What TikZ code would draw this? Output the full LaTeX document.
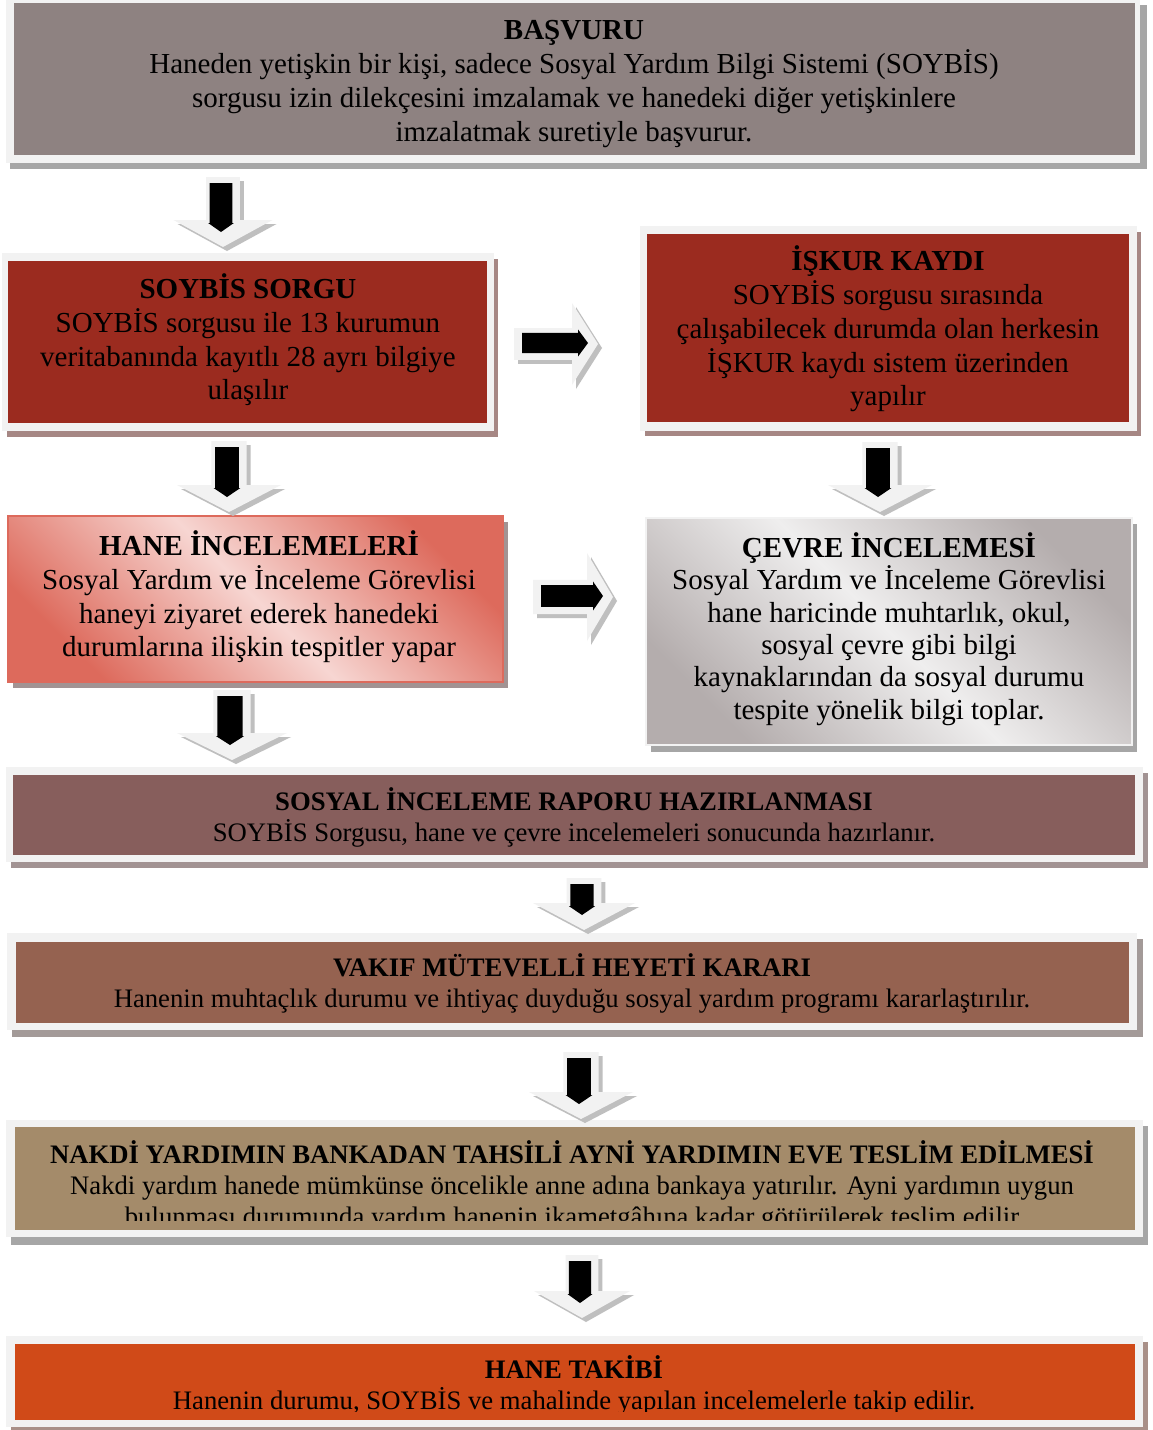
\documentclass[tikz,border=0pt]{standalone}
\usepackage{fontspec}
\setmainfont{Liberation Serif}
\usetikzlibrary{calc}
\definecolor{framegray}{HTML}{F2F2F2}
\definecolor{arrshadow}{HTML}{BFBFBF}
\definecolor{cOne}{HTML}{8E8281}
\definecolor{cRed}{HTML}{9B2B1F}
\definecolor{cSix}{HTML}{875E5C}
\definecolor{cSeven}{HTML}{956250}
\definecolor{cEight}{HTML}{A48B6A}
\definecolor{cNine}{HTML}{D04A18}
\definecolor{pinkDark}{HTML}{DD6A5C}
\definecolor{pinkLight}{HTML}{F7D6D2}
\definecolor{grayDark}{HTML}{B4ADAD}
\definecolor{grayLight}{HTML}{EFEEEE}
\definecolor{shGray}{HTML}{A6A6A6}
\definecolor{shRed}{HTML}{A68784}
\definecolor{shMauve}{HTML}{A29393}
\definecolor{shBrown}{HTML}{A39A98}
\definecolor{shOrange}{HTML}{A99088}
\tikzset{
  txt/.style={inner sep=0pt, align=center, text=black},
  bigfont/.style={font=\fontsize{29}{33.7}\selectfont},
  smallfont/.style={font=\fontsize{26.7}{31}\selectfont},
  lightarrow/.style={fill=framegray},
  blackarrow/.style={fill=black},
  arrowshadow/.style={fill=arrshadow},
}
% down block arrow: centre x, top y, tip y, head half width
\newcommand{\DArr}[4]{%
  \pgfmathsetmacro{\arS}{0.34*#4}%
  \pgfmathsetmacro{\arB}{0.23*#4}%
  \pgfmathsetmacro{\arX}{#1-2}%
  \foreach \dx/\dy/\sty in {4/4/arrowshadow,0/0/lightarrow}{%
    \fill[\sty] ({#1-\arS+\dx},{#2+\dy}) -- ({#1+\arS+\dx},{#2+\dy}) -- ({#1+\arS+\dx},{#3-27+\dy})
      -- ({#1+#4+\dx},{#3-27+\dy}) -- ({#1+\dx},{#3+\dy}) -- ({#1-#4+\dx},{#3-27+\dy})
      -- ({#1-\arS+\dx},{#3-27+\dy}) -- cycle;}
  \fill[blackarrow] ({\arX-\arB},{#2+6}) -- ({\arX+\arB},{#2+6}) -- ({\arX+\arB},{#3-24})
      -- ({\arX+\arB+1.5},{#3-24}) -- ({\arX},{#3-15}) -- ({\arX-\arB-1.5},{#3-24})
      -- ({\arX-\arB},{#3-24}) -- cycle;
}
% right block arrow: left x, centre y, tip x, head half height
\newcommand{\RArr}[4]{%
  \pgfmathsetmacro{\arS}{0.39*#4}%
  \pgfmathsetmacro{\arB}{0.245*#4}%
  \pgfmathsetmacro{\arH}{0.33*#4}%
  \pgfmathsetmacro{\arY}{#2-1}%
  \foreach \dx/\dy/\sty in {4/4/arrowshadow,0/0/lightarrow}{%
    \fill[\sty] ({#1+\dx},{#2-\arS+\dy}) -- ({#3-26+\dx},{#2-\arS+\dy}) -- ({#3-26+\dx},{#2-#4+\dy})
      -- ({#3+\dx},{#2+\dy}) -- ({#3-26+\dx},{#2+#4+\dy}) -- ({#3-26+\dx},{#2+\arS+\dy})
      -- ({#1+\dx},{#2+\arS+\dy}) -- cycle;}
  \fill[blackarrow] ({#1+8},{\arY-\arB}) -- ({#3-20},{\arY-\arB}) -- ({#3-20},{\arY-\arH})
      -- ({#3-10},{\arY}) -- ({#3-20},{\arY+\arH}) -- ({#3-20},{\arY+\arB})
      -- ({#1+8},{\arY+\arB}) -- cycle;
}
\begin{document}
\begin{tikzpicture}[x=1pt,y=-1pt]
\useasboundingbox[fill=white] (0,0) rectangle (1152,1430);

% ---- Box 1: BASVURU
\fill[shGray] (10,5) rectangle (1147,169);
\fill[framegray] (6,-5) rectangle (1140,163);
\fill[cOne] (14,3) rectangle (1135,155);
\node[txt,bigfont] (basvuru) at (574,84) {\textbf{BAŞVURU}\\Haneden yetişkin bir kişi, sadece Sosyal Yardım Bilgi Sistemi (SOYBİS)\\sorgusu izin dilekçesini imzalamak ve hanedeki diğer yetişkinlere\\imzalatmak suretiyle başvurur.};

% ---- Box 2: SOYBIS SORGU
\fill[shRed] (7,259) rectangle (498,437);
\fill[framegray] (2,253) rectangle (494,431);
\fill[cRed] (8,261) rectangle (487,423);
\node[txt,bigfont] (sorgu) at (248,340) {\textbf{SOYBİS SORGU}\\SOYBİS sorgusu ile 13 kurumun\\veritabanında kayıtlı 28 ayrı bilgiye\\ulaşılır};

% ---- Box 3: ISKUR KAYDI
\fill[shRed] (645,232) rectangle (1141,436);
\fill[framegray] (640,226) rectangle (1137,431);
\fill[cRed] (647,234) rectangle (1129,422);
\node[txt,bigfont] (iskur) at (888,329) {\textbf{İŞKUR KAYDI}\\SOYBİS sorgusu sırasında\\çalışabilecek durumda olan herkesin\\İŞKUR kaydı sistem üzerinden\\yapılır};

% ---- Box 4: HANE INCELEMELERI
\fill[shMauve] (13,522) rectangle (508,688);
\shade[top color=pinkDark, bottom color=pinkDark, middle color=pinkLight, shading angle=-45, draw=pinkDark, line width=1.2pt] (8,516) rectangle (503,682);
\node[txt,bigfont] (hane) at (259,597) {\textbf{HANE İNCELEMELERİ}\\Sosyal Yardım ve İnceleme Görevlisi\\haneyi ziyaret ederek hanedeki\\durumlarına ilişkin tespitler yapar};

% ---- Box 5: CEVRE INCELEMESI
\fill[shGray] (651,524) rectangle (1137,752);
\shade[top color=grayDark, bottom color=grayDark, middle color=grayLight, shading angle=-45, draw=framegray, line width=1.2pt] (646,518) rectangle (1132,745);
\node[txt,bigfont,font=\fontsize{29}{32.3}\selectfont] (cevre) at (889,629) {\textbf{ÇEVRE İNCELEMESİ}\\Sosyal Yardım ve İnceleme Görevlisi\\hane haricinde muhtarlık, okul,\\sosyal çevre gibi bilgi\\kaynaklarından da sosyal durumu\\tespite yönelik bilgi toplar.};

% ---- Box 6: SOSYAL INCELEME RAPORU
\fill[shMauve] (11,773) rectangle (1148,868);
\fill[framegray] (6,767) rectangle (1143,862);
\fill[cSix] (13,775) rectangle (1135,855);
\node[txt,smallfont] (rapor) at (574,817) {\textbf{SOSYAL İNCELEME RAPORU HAZIRLANMASI}\\SOYBİS Sorgusu, hane ve çevre incelemeleri sonucunda hazırlanır.};

% ---- Box 7: VAKIF
\fill[shBrown] (12,939) rectangle (1143,1037);
\fill[framegray] (7,933) rectangle (1137,1030);
\fill[cSeven] (16,942) rectangle (1129,1023);
\node[txt,smallfont] (vakif) at (572,983) {\textbf{VAKIF MÜTEVELLİ HEYETİ KARARI}\\Hanenin muhtaçlık durumu ve ihtiyaç duyduğu sosyal yardım programı kararlaştırılır.};

% ---- Box 8: NAKDI
\fill[shGray] (11,1126) rectangle (1148,1245);
\fill[framegray] (6,1120) rectangle (1143,1237);
\fill[cEight] (15,1127) rectangle (1135,1230);
\begin{scope}
\clip (15,1127) rectangle (1135,1220);
\node[txt,smallfont] (nakdi) at (572,1186) {\textbf{NAKDİ YARDIMIN BANKADAN TAHSİLİ AYNİ YARDIMIN EVE TESLİM EDİLMESİ}\\Nakdi yardım hanede mümkünse öncelikle anne adına bankaya yatırılır. Ayni yardımın uygun\\bulunması durumunda yardım hanenin ikametgâhına kadar götürülerek teslim edilir};
\end{scope}

% ---- Box 9: HANE TAKIBI
\fill[shOrange] (11,1342) rectangle (1148,1433);
\fill[framegray] (6,1336) rectangle (1143,1427);
\fill[cNine] (15,1344) rectangle (1135,1420);
\begin{scope}
\clip (15,1344) rectangle (1135,1411);
\node[txt,smallfont] (takip) at (574,1385) {\textbf{HANE TAKİBİ}\\Hanenin durumu, SOYBİS ve mahalinde yapılan incelemelerle takip edilir.};
\end{scope}

% ---- block arrows
\DArr{223}{177}{247}{49.5}
\DArr{229}{441}{512}{52}
\DArr{880}{442}{512}{52}
\DArr{232}{690}{760}{55}
\DArr{584}{878}{930}{51}
\DArr{581}{1052}{1119}{52}
\DArr{582}{1255}{1318}{48}
\RArr{514}{344}{598}{41}
\RArr{533}{597}{613}{44}
\end{tikzpicture}
\end{document}
